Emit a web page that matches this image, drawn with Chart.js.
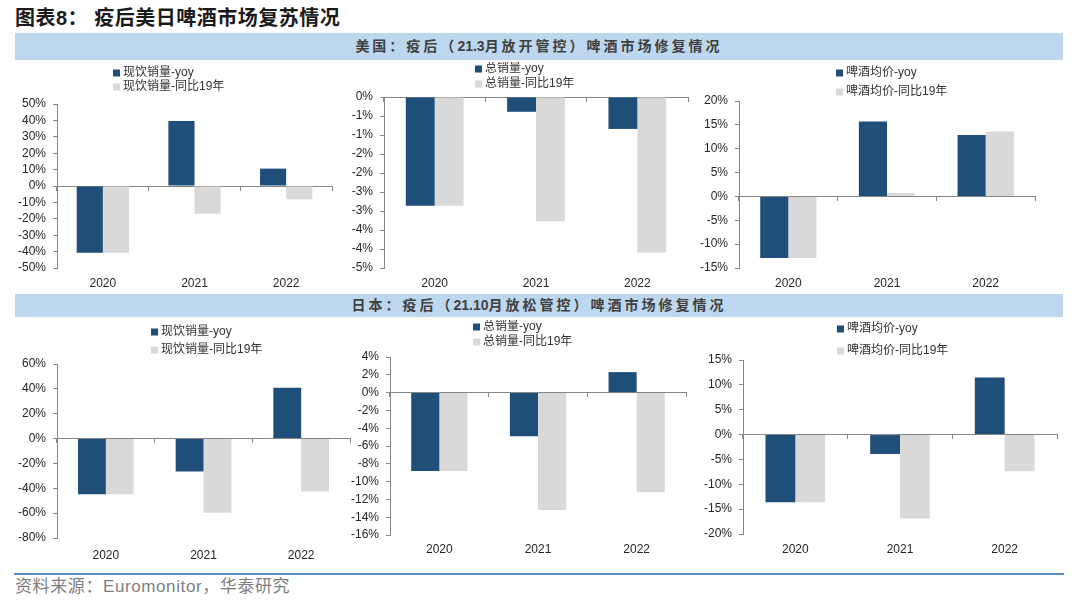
<!DOCTYPE html>
<html>
<head>
<meta charset="utf-8">
<script src="https://cdn.jsdelivr.net/npm/chart.js@4.4.1/dist/chart.umd.min.js"></script>
<style>
  body { margin: 0; background: #fff; }
  #page { position: relative; width: 1080px; height: 609px; overflow: hidden; font-family: "Liberation Sans", "Noto Sans CJK SC", sans-serif; }
  .title { position: absolute; left: 15px; top: 5px; font-size: 20px; font-weight: bold; color: #1a1a1a; line-height: 26px; letter-spacing: 0.5px; }
  .banner { position: absolute; left: 15px; width: 1048px; background: #bdd7ee; color: #404040; font-weight: bold; font-size: 14px; letter-spacing: 3px; text-align: center; }
  .banner .num { letter-spacing: 0; }
  .box { position: absolute; }
  .rule { position: absolute; left: 14px; width: 1050px; top: 573px; height: 2px; background: #5b8cc8; }
  .source { position: absolute; left: 15px; top: 576px; font-size: 17px; color: #7f7f7f; line-height: 22px; letter-spacing: 0.6px; }
</style>
</head>
<body>
<div id="page">
  <div class="title">图表8：&nbsp;疫后美日啤酒市场复苏情况</div>
  <div class="banner" style="top:33px;height:27px;line-height:27px;">美国：疫后（<span class="num">21.3</span>月放开管控）啤酒市场修复情况</div>
  <div class="banner" style="top:294px;height:23px;line-height:23px;">日本：疫后（<span class="num">21.10</span>月放松管控）啤酒市场修复情况</div>
  <div class="box" id="b1"><canvas id="c1"></canvas></div>
  <div class="box" id="b2"><canvas id="c2"></canvas></div>
  <div class="box" id="b3"><canvas id="c3"></canvas></div>
  <div class="box" id="b4"><canvas id="c4"></canvas></div>
  <div class="box" id="b5"><canvas id="c5"></canvas></div>
  <div class="box" id="b6"><canvas id="c6"></canvas></div>
  <div class="rule"></div>
  <div class="source">资料来源：Euromonitor，华泰研究</div>
</div>
<script>
// categories and series (values in %)
var years = ['2020', '2021', '2022'];

var onTradeNames = ['现饮销量-yoy', '现饮销量-同比19年'];
var totalNames = ['总销量-yoy', '总销量-同比19年'];
var priceNames = ['啤酒均价-yoy', '啤酒均价-同比19年'];

var usOnYoy = [-40.7, 39.6, 10.6];
var usOn19 = [-40.7, -16.9, -8.1];
var usTotalYoy = [-2.86, -0.39, -0.84];
var usTotal19 = [-2.86, -3.27, -4.09];
var usPriceYoy = [-12.9, 15.7, 12.9];
var usPrice19 = [-12.9, 0.7, 13.6];

var jpOnYoy = [-44.7, -26.5, 40.9];
var jpOn19 = [-44.7, -59.7, -42.5];
var jpTotalYoy = [-8.8, -4.9, 2.3];
var jpTotal19 = [-8.8, -13.2, -11.2];
var jpPriceYoy = [-13.6, -3.9, 11.5];
var jpPrice19 = [-13.6, -16.9, -7.4];

// the US total-volume axis runs in 0.5 steps but shows rounded labels (top to bottom)
var usTotalTicks = ['0%', '-1%', '-1%', '-2%', '-2%', '-3%', '-3%', '-4%', '-4%', '-5%'];

var BLUE = '#1f4e79';
var GREY = '#d9d9d9';
var AXIS = '#868686';
var FONT = '"Liberation Sans", "Noto Sans CJK SC", sans-serif';

// stacked legend drawn inside the canvas
var stackLegend = {
    id: 'stackLegend',
    afterDraw: function(chart, args, opts) {
        var ctx = chart.ctx;
        ctx.save();
        ctx.font = '12px ' + FONT;
        ctx.textBaseline = 'middle';
        chart.data.datasets.forEach(function(ds, i) {
            var y = opts.ys[i];
            ctx.fillStyle = ds.backgroundColor;
            ctx.fillRect(opts.x, y - 3.5, 7, 7);
            ctx.fillStyle = '#333333';
            ctx.fillText(ds.label, opts.x + 10, y);
        });
        ctx.restore();
    }
};

function makeChart(n, cfg) {
    var box = document.getElementById('b' + n);
    box.style.left = cfg.L + 'px';
    box.style.top = cfg.T + 'px';
    box.style.width = cfg.W + 'px';
    box.style.height = cfg.H + 'px';

    var tickCb = cfg.tickLabels
        ? function(v, i, ticks) { return cfg.tickLabels[ticks.length - 1 - i]; }
        : function(v) { return v + '%'; };

    new Chart(document.getElementById('c' + n), {
        type: 'bar',
        data: {
            labels: years,
            datasets: [
                { label: cfg.names[0], data: cfg.yoy, backgroundColor: BLUE },
                { label: cfg.names[1], data: cfg.vs19, backgroundColor: GREY }
            ]
        },
        plugins: [stackLegend],
        options: {
            responsive: true,
            maintainAspectRatio: false,
            animation: false,
            datasets: {
                bar: { categoryPercentage: 0.57, barPercentage: 1 }
            },
            layout: {
                padding: { left: 0, top: cfg.top - cfg.T, right: cfg.L + cfg.W - cfg.right, bottom: 0 }
            },
            plugins: {
                legend: { display: false },
                tooltip: { enabled: false },
                stackLegend: { x: cfg.legX - cfg.L, ys: [cfg.legY[0] - cfg.T, cfg.legY[1] - cfg.T] }
            },
            scales: {
                x: {
                    type: 'category',
                    position: { y: 0 },
                    offset: true,
                    grid: { offset: true, drawOnChartArea: false, drawTicks: true, tickLength: 4, color: AXIS },
                    border: { color: AXIS },
                    ticks: { display: false }
                },
                x2: {
                    type: 'category',
                    position: 'bottom',
                    offset: true,
                    grid: { display: false, drawTicks: false },
                    border: { display: false },
                    ticks: { color: '#262626', font: { family: FONT, size: 12 }, padding: cfg.labelGap },
                    afterFit: function(scale) { scale.height = cfg.T + cfg.H - cfg.bottom; }
                },
                y: {
                    min: cfg.min,
                    max: cfg.max,
                    ticks: {
                        stepSize: cfg.step,
                        autoSkip: false,
                        color: '#262626',
                        font: { family: FONT, size: 12 },
                        padding: 7,
                        callback: tickCb
                    },
                    grid: { drawOnChartArea: false, drawTicks: true, tickLength: 4, color: AXIS },
                    border: { color: AXIS },
                    afterFit: function(scale) { scale.width = cfg.axisX - cfg.L; }
                }
            }
        }
    });
}

makeChart(1, { L: 0, T: 62, W: 345, H: 230, axisX: 57, top: 104, right: 332, bottom: 268, labelGap: 8,
    min: -50, max: 50, step: 10, names: onTradeNames, yoy: usOnYoy, vs19: usOn19, legX: 113, legY: [73, 87] });
makeChart(2, { L: 340, T: 62, W: 360, H: 230, axisX: 384, top: 97, right: 688, bottom: 268, labelGap: 8,
    min: -4.5, max: 0, step: 0.5, tickLabels: usTotalTicks, names: totalNames, yoy: usTotalYoy, vs19: usTotal19, legX: 475, legY: [69, 84] });
makeChart(3, { L: 700, T: 62, W: 370, H: 230, axisX: 739, top: 101, right: 1035, bottom: 268, labelGap: 8,
    min: -15, max: 20, step: 5, names: priceNames, yoy: usPriceYoy, vs19: usPrice19, legX: 836, legY: [73, 92] });
makeChart(4, { L: 0, T: 320, W: 360, H: 245, axisX: 57, top: 364, right: 350, bottom: 538, labelGap: 10,
    min: -80, max: 60, step: 20, names: onTradeNames, yoy: jpOnYoy, vs19: jpOn19, legX: 151, legY: [332, 350] });
makeChart(5, { L: 340, T: 320, W: 360, H: 245, axisX: 390, top: 357, right: 686, bottom: 535, labelGap: 7,
    min: -16, max: 4, step: 2, names: totalNames, yoy: jpTotalYoy, vs19: jpTotal19, legX: 473, legY: [327, 342] });
makeChart(6, { L: 700, T: 320, W: 370, H: 245, axisX: 743, top: 360, right: 1057, bottom: 534, labelGap: 8,
    min: -20, max: 15, step: 5, names: priceNames, yoy: jpPriceYoy, vs19: jpPrice19, legX: 837, legY: [329, 351] });
</script>
</body>
</html>
